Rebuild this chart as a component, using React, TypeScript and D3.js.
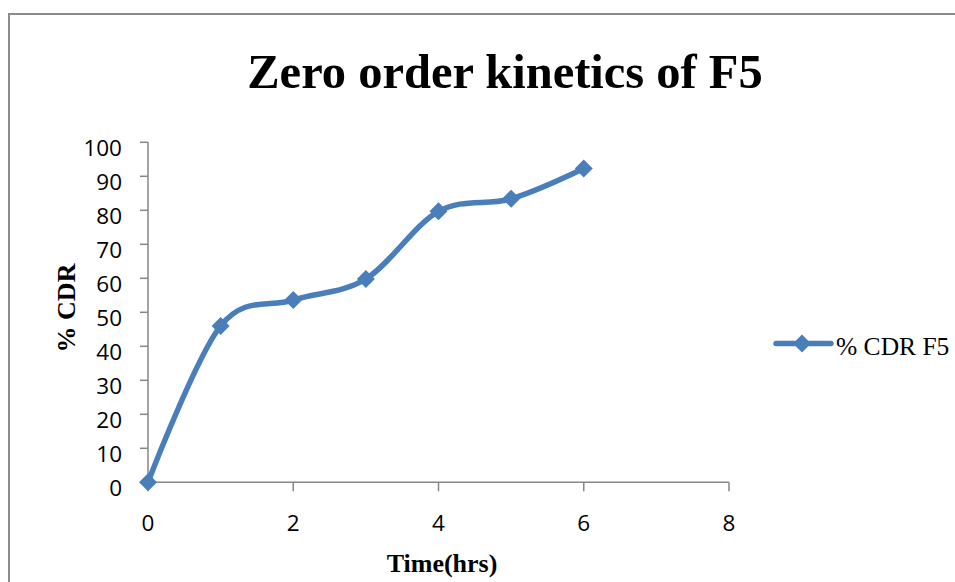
import React from "react";
import * as d3 from "d3";

const times = [0, 1, 2, 3, 4, 5, 6];
const cdr = [0, 46, 53.6, 59.8, 79.7, 83.4, 92.3];
const xTicks = [0, 2, 4, 6, 8];
const yTicks = [0, 10, 20, 30, 40, 50, 60, 70, 80, 90, 100];
const title = "Zero order kinetics of F5";
const xTitle = "Time(hrs)";
const yTitle = "% CDR";
const seriesName = "% CDR F5";

const W = 955;
const H = 582;
const BLUE = "#4a7ebb";
const AXIS = "#868686";
const TICKFONT = "'Open Sans', 'Liberation Sans', sans-serif";
const SERIF = "'Liberation Serif', 'Times New Roman', serif";

function diamond(cx: number, cy: number, r: number) {
  return `M${cx},${cy - r}L${cx + r},${cy}L${cx},${cy + r}L${cx - r},${cy}Z`;
}

export default function App() {
  const x = d3.scaleLinear().domain([0, 8]).range([148, 729]);
  const y = d3.scaleLinear().domain([0, 100]).range([482.3, 142.3]);
  const line = d3
    .line<number>()
    .x((_, i) => x(times[i]))
    .y((d) => y(d))
    .curve(d3.curveCatmullRom.alpha(0));
  const path = line(cdr) || "";

  return (
    <svg
      width={W}
      height={H}
      style={{ position: "absolute", left: 0, top: 0, background: "#fff" }}
    >
      <rect x={0} y={0} width={W} height={H} fill="#fff" />
      <rect x={9} y={14} width={1000} height={700} fill="none" stroke="#8c8c8c" strokeWidth={2} />
      <text
        x={505}
        y={88}
        textAnchor="middle"
        fontFamily={SERIF}
        fontWeight="bold"
        fontSize={48.5}
      >
        {title}
      </text>
      {/* y axis */}
      <line x1={x(0)} x2={x(0)} y1={y(0)} y2={y(100)} stroke={AXIS} strokeWidth={1.5} />
      {yTicks.map((t) => (
        <g key={"y" + t}>
          <line x1={x(0) - 8} x2={x(0)} y1={y(t)} y2={y(t)} stroke={AXIS} strokeWidth={1.5} />
          <text
            x={122}
            y={y(t) + 13.5}
            textAnchor="end"
            fontFamily={TICKFONT}
            fontSize={22.5}
          >
            {t}
          </text>
        </g>
      ))}
      {/* x axis */}
      <line x1={x(0)} x2={x(8)} y1={y(0)} y2={y(0)} stroke={AXIS} strokeWidth={1.5} />
      {xTicks.map((t) => (
        <g key={"x" + t}>
          <line x1={x(t)} x2={x(t)} y1={y(0)} y2={y(0) + 9} stroke={AXIS} strokeWidth={1.5} />
          <text
            x={x(t)}
            y={531}
            textAnchor="middle"
            fontFamily={TICKFONT}
            fontSize={22.5}
          >
            {t}
          </text>
        </g>
      ))}
      <text
        x={442}
        y={572}
        textAnchor="middle"
        fontFamily={SERIF}
        fontWeight="bold"
        fontSize={26}
      >
        {xTitle}
      </text>
      <text
        transform={`translate(75,308) rotate(-90)`}
        textAnchor="middle"
        fontFamily={SERIF}
        fontWeight="bold"
        fontSize={26}
      >
        {yTitle}
      </text>
      {/* series */}
      <path d={path} fill="none" stroke={BLUE} strokeWidth={5.5} strokeLinecap="round" strokeLinejoin="round" />
      {cdr.map((v, i) => (
        <path key={"m" + i} d={diamond(x(times[i]), y(v), 9)} fill={BLUE} />
      ))}
      {/* legend */}
      <line x1={776} x2={831} y1={343.5} y2={343.5} stroke={BLUE} strokeWidth={5.5} strokeLinecap="round" />
      <path d={diamond(802, 343.5, 9)} fill={BLUE} />
      <text x={836} y={355} fontFamily={SERIF} fontSize={25.5}>
        {seriesName}
      </text>
    </svg>
  );
}
